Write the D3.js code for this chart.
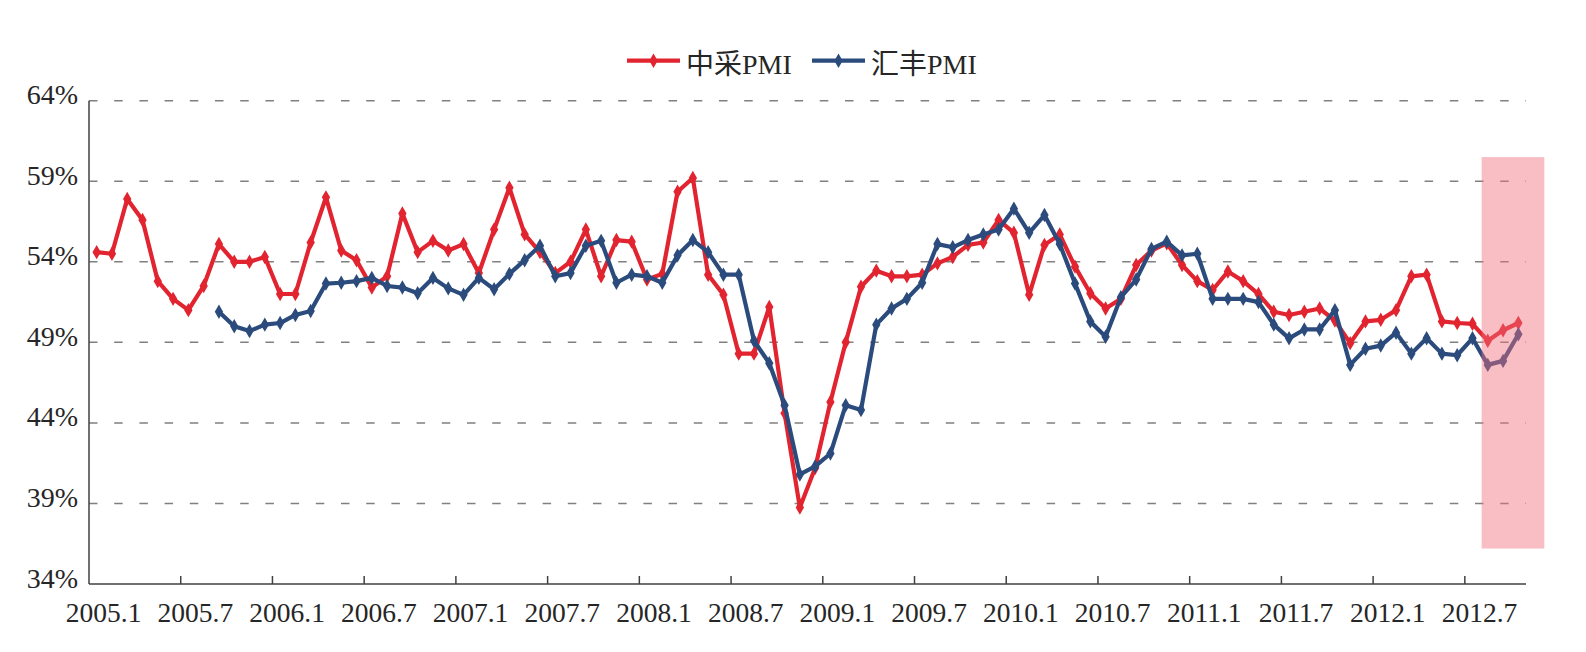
<!DOCTYPE html>
<html>
<head>
<meta charset="utf-8">
<script src="https://cdn.jsdelivr.net/npm/d3@7"></script>
<style>
  body { margin: 0; background: #fff; }
  svg text { font-family: "Liberation Serif", "Noto Sans CJK SC", serif; fill: #262626; }
</style>
</head>
<body>
<div id="chart"></div>
<script>
// monthly categories 2005.1 .. 2012.10
const months = [];
for (let yr = 2005; yr <= 2012; yr++) {
    for (let mo = 1; mo <= 12; mo++) {
        if (yr === 2012 && mo > 10) break;
        months.push(yr + "." + mo);
    }
}

const tickLabels = ["2005.1", "2005.7", "2006.1", "2006.7", "2007.1", "2007.7", "2008.1", "2008.7",
                    "2009.1", "2009.7", "2010.1", "2010.7", "2011.1", "2011.7", "2012.1", "2012.7"];

const yTicks = [34, 39, 44, 49, 54, 59, 64];

// 中采PMI
const cfpPMI = [
    54.6, 54.5, 57.9, 56.6, 52.8, 51.7, 51.0, 52.5, 55.1, 54.0, 54.0, 54.3,
    52.0, 52.0, 55.2, 58.0, 54.7, 54.1, 52.4, 53.1, 57.0, 54.6, 55.3, 54.7,
    55.1, 53.3, 56.0, 58.6, 55.7, 54.6, 53.3, 54.0, 56.0, 53.1, 55.35, 55.25,
    52.9, 53.25, 58.35, 59.2, 53.2, 51.95, 48.3, 48.3, 51.2, 44.6, 38.75, 41.2,
    45.3, 49.0, 52.45, 53.45, 53.1, 53.1, 53.2, 53.9, 54.3, 55.05, 55.2, 56.6,
    55.8, 51.95, 55.05, 55.7, 53.7, 52.05, 51.1, 51.7, 53.8, 54.7, 55.15, 53.8,
    52.8, 52.25, 53.4, 52.8, 52.0, 50.9, 50.7, 50.9, 51.1, 50.35, 48.95, 50.3,
    50.4, 51.0, 53.1, 53.2, 50.3, 50.2, 50.15, 49.1, 49.75, 50.2
];

// 汇丰PMI
const hsbcPMI = [
    null, null, null, null, null, null, null, null, 50.9, 50.0, 49.7, 50.1,
    50.2, 50.7, 50.95, 52.65, 52.7, 52.8, 53.0, 52.5, 52.4, 52.05, 53.0, 52.35,
    51.95, 53.0, 52.3, 53.25, 54.1, 55.0, 53.1, 53.3, 55.0, 55.3, 52.7, 53.2,
    53.1, 52.7, 54.4, 55.35, 54.6, 53.2, 53.2, 49.1, 47.7, 45.1, 40.8, 41.3,
    42.1, 45.1, 44.8, 50.1, 51.1, 51.7, 52.7, 55.1, 54.9, 55.35, 55.7, 56.0,
    57.3, 55.8, 56.9, 55.1, 52.65, 50.3, 49.35, 51.8, 52.9, 54.8, 55.25, 54.4,
    54.5, 51.7, 51.7, 51.7, 51.5, 50.1, 49.25, 49.8, 49.8, 51.0, 47.6, 48.6,
    48.8, 49.6, 48.3, 49.25, 48.3, 48.2, 49.25, 47.6, 47.85, 49.5
];

const series = [
    { name: "中采PMI", values: cfpPMI, color: "#e1242f" },
    { name: "汇丰PMI", values: hsbcPMI, color: "#2c4b7d" }
];

// highlighted recent months
const highlight = { from: "2012.8", bands: 4.1, top: 60.5, bottom: 36.2 };

const width = 1586, height = 652;
const margin = { left: 89, right: 1526, top: 100.7, bottom: 584 };

const svg = d3.select("#chart").append("svg")
    .attr("width", width)
    .attr("height", height);

const x = d3.scaleBand().domain(months).range([margin.left, margin.right]).padding(0);
const y = d3.scaleLinear().domain([34, 64]).range([margin.bottom, margin.top]);
const cx = m => x(m) + x.bandwidth() / 2;

// gridlines
svg.append("g")
    .selectAll("line")
    .data(yTicks.filter(d => d > 34))
    .join("line")
    .attr("x1", margin.left)
    .attr("x2", margin.right)
    .attr("y1", d => y(d))
    .attr("y2", d => y(d))
    .attr("stroke", "#808080")
    .attr("stroke-width", 1.5)
    .attr("stroke-dasharray", "8.5,16.7");

// y labels
svg.append("g")
    .selectAll("text")
    .data(yTicks)
    .join("text")
    .attr("x", 78)
    .attr("y", d => y(d) + 3.5)
    .attr("text-anchor", "end")
    .style("font-size", "28px")
    .text(d => d + "%");

// axes lines
svg.append("line")
    .attr("x1", margin.left).attr("x2", margin.left)
    .attr("y1", margin.top).attr("y2", margin.bottom)
    .attr("stroke", "#404040").attr("stroke-width", 1.5);

svg.append("line")
    .attr("x1", margin.left).attr("x2", margin.right)
    .attr("y1", margin.bottom).attr("y2", margin.bottom)
    .attr("stroke", "#404040").attr("stroke-width", 1.5);

// x ticks (inward) and labels
svg.append("g")
    .selectAll("line")
    .data(tickLabels.slice(1))
    .join("line")
    .attr("x1", d => x(d))
    .attr("x2", d => x(d))
    .attr("y1", margin.bottom)
    .attr("y2", margin.bottom - 8)
    .attr("stroke", "#404040")
    .attr("stroke-width", 1.5);

svg.append("g")
    .selectAll("text")
    .data(tickLabels)
    .join("text")
    .attr("x", d => cx(d) + 7)
    .attr("y", 622)
    .attr("text-anchor", "middle")
    .style("font-size", "27.5px")
    .text(d => d);

// lines + markers
const line = d3.line()
    .defined(d => d.v !== null)
    .x(d => cx(d.m))
    .y(d => y(d.v));

const diamond = d3.symbol().type(d3.symbolDiamond).size(60);

series.forEach(s => {
    const pts = months.map((m, i) => ({ m: m, v: s.values[i] }));

    svg.append("path")
        .datum(pts)
        .attr("fill", "none")
        .attr("stroke", s.color)
        .attr("stroke-width", 4.2)
        .attr("stroke-linejoin", "round")
        .attr("d", line);

    svg.append("g")
        .selectAll("path")
        .data(pts.filter(d => d.v !== null))
        .join("path")
        .attr("d", diamond)
        .attr("transform", d => `translate(${cx(d.m)},${y(d.v)})`)
        .attr("fill", s.color);
});

// highlight box
svg.append("rect")
    .attr("x", x(highlight.from) + 1.5)
    .attr("y", y(highlight.top))
    .attr("width", x.bandwidth() * highlight.bands)
    .attr("height", y(highlight.bottom) - y(highlight.top))
    .attr("fill", "rgb(240,110,125)")
    .attr("opacity", 0.45);

// legend
const legend = svg.append("g");
const legendPos = [627, 812];
series.forEach((s, i) => {
    const lx = legendPos[i];
    legend.append("line")
        .attr("x1", lx).attr("x2", lx + 53)
        .attr("y1", 60.7).attr("y2", 60.7)
        .attr("stroke", s.color).attr("stroke-width", 4.2);
    legend.append("path")
        .attr("d", diamond)
        .attr("transform", `translate(${lx + 26.5},60.7)`)
        .attr("fill", s.color);
    legend.append("text")
        .attr("x", lx + 59)
        .attr("y", 74)
        .style("font-size", "28px")
        .text(s.name);
});
</script>
</body>
</html>
